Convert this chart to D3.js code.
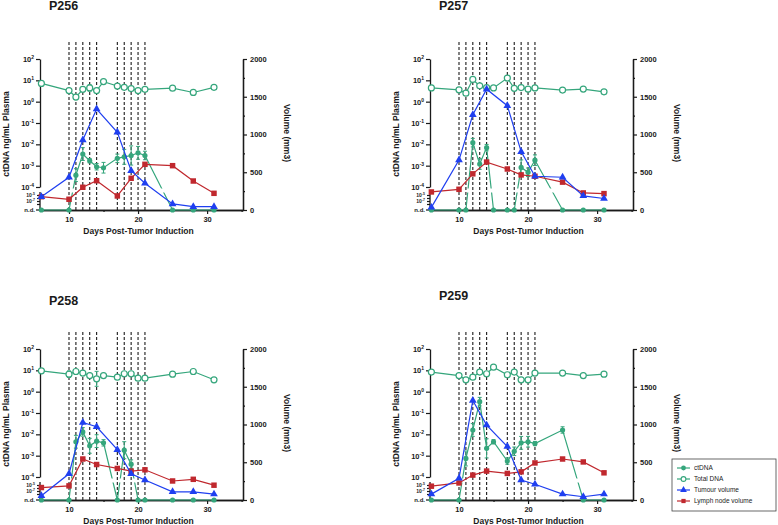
<!DOCTYPE html>
<html>
<head>
<meta charset="utf-8">
<script src="https://cdn.jsdelivr.net/npm/d3@7"></script>
<style>
  body { margin: 0; background: #fff; }
  svg { display: block; font-family: "Liberation Sans", Arial, sans-serif; font-weight: bold; }
</style>
</head>
<body>
<svg id="chart" width="778" height="525"></svg>
<script>
// ---------------------------------------------------------------------------
// Data. 0 = n.d. (not detected)
// ---------------------------------------------------------------------------
const dnaDays  = [6, 10, 11, 12, 13, 14, 15, 17, 18, 19, 20, 21, 25, 28, 31];
const volDays  = [6, 10, 12, 14, 17, 19, 21, 25, 28, 31];
const doseDays = [10, 11, 12, 13, 14, 17, 18, 19, 20, 21];

// ctDNA (ng/mL plasma), error in log decades
const ctDNA_P256 = [0, 0, 3.6e-4, 3.5e-3, 1.7e-3, 8.9e-4, 8e-4, 2.2e-3, 2.6e-3, 3e-3, 4e-3, 3e-3, 0, 0, 0];
const ctErr_P256 = [0, 0, 0.3, 0.3, 0.1, 0.15, 0.25, 0.2, 0.35, 0.45, 0.3, 0.2, 0, 0, 0];
const ctDNA_P257 = [0, 0, 0, 1.2e-2, 1.2e-3, 7e-3, 0, 0, 0, 8.3e-4, 4.9e-4, 1.8e-3, 0, 0, 0];
const ctErr_P257 = [0, 0, 0, 0.2, 0.25, 0.15, 0, 0, 0, 0.35, 0.2, 0.25, 0, 0, 0];
const ctDNA_P258 = [0, 0, 4.5e-3, 1.3e-2, 2.9e-3, 4.8e-3, 4e-3, 0, 1.8e-3, 4e-4, 0, 0, 0, 0, 0];
const ctErr_P258 = [0, 0, 0.3, 0.2, 0.35, 0.3, 0.15, 0, 0.4, 0.2, 0, 0, 0, 0, 0];
const ctDNA_P259 = [0, 0, 7.4e-4, 1.6e-2, 0.34, 2.2e-3, 4.5e-3, 5.6e-4, 1.6e-3, 4e-3, 4.5e-3, 3.7e-3, 1.6e-2, 0, 0];
const ctErr_P259 = [0, 0, 0.35, 0.3, 0.2, 0.45, 0.1, 0.15, 0.2, 0.3, 0.25, 0.1, 0.15, 0, 0];

// total DNA (ng/mL plasma)
const totDNA_P256 = [7.2, 3.3, 1.65, 3.8, 4.4, 3.3, 8.7, 5.4, 4.7, 4.1, 3.3, 3.8, 4.3, 2.7, 4.7];
const totErr_P256 = [0, 0, 0.1, 0.12, 0.15, 0, 0, 0, 0, 0, 0, 0, 0, 0, 0];
const totDNA_P257 = [4.4, 3.6, 2.5, 11, 5.5, 4.6, 4.4, 12.8, 4.2, 4.6, 3.9, 4.4, 3.5, 3.9, 2.9];
const totErr_P257 = [0.12, 0, 0.1, 0, 0, 0, 0, 0, 0, 0, 0, 0, 0, 0, 0];
const totDNA_P258 = [9.5, 6.6, 8.8, 7.4, 5.7, 4, 5.7, 4.8, 6.9, 6.9, 4.3, 4.3, 6.6, 8.8, 3.6];
const totErr_P258 = [0.1, 0.15, 0, 0, 0, 0.35, 0, 0, 0, 0, 0, 0, 0, 0, 0];
const totDNA_P259 = [8.3, 5.7, 3.6, 4.8, 8.3, 6.9, 14, 6.2, 8.3, 3.6, 3.6, 7.4, 7.4, 5.7, 6.6];
const totErr_P259 = [0, 0, 0, 0, 0, 0, 0, 0, 0.1, 0, 0, 0, 0, 0, 0];

// volumes (mm3)
const tumour_P256 = [176, 433, 928, 1338, 1029, 521, 354, 80, 44, 44];
const lymph_P256  = [176, 142, 301, 388, 186, 420, 605, 587, 384, 221];
const tumour_P257 = [35, 661, 1261, 1600, 1382, 773, 447, 434, 187, 152];
const lymph_P257  = [239, 274, 479, 635, 543, 465, 447, 369, 226, 217];
const tumour_P258 = [56, 347, 1026, 970, 666, 347, 265, 108, 108, 78];
const lymph_P258  = [165, 187, 543, 470, 418, 383, 400, 252, 274, 196];
const tumour_P259 = [78, 287, 1318, 992, 709, 265, 209, 78, 43, 78];
const lymph_P259  = [183, 226, 330, 383, 352, 373, 491, 543, 504, 360];

const panelNames = ["P256", "P257", "P258", "P259"];
const legendLabels = ["ctDNA", "Total DNA", "Tumour volume", "Lymph node volume"];

const panels = [
  { name: panelNames[0], ct: ctDNA_P256, ctErr: ctErr_P256, tot: totDNA_P256, totErr: totErr_P256, tum: tumour_P256, lym: lymph_P256 },
  { name: panelNames[1], ct: ctDNA_P257, ctErr: ctErr_P257, tot: totDNA_P257, totErr: totErr_P257, tum: tumour_P257, lym: lymph_P257 },
  { name: panelNames[2], ct: ctDNA_P258, ctErr: ctErr_P258, tot: totDNA_P258, totErr: totErr_P258, tum: tumour_P258, lym: lymph_P258 },
  { name: panelNames[3], ct: ctDNA_P259, ctErr: ctErr_P259, tot: totDNA_P259, totErr: totErr_P259, tum: tumour_P259, lym: lymph_P259 }
];

// panel placement
const layout = [
  { ox: 0,   oy: 0,   ty: 10 },
  { ox: 390, oy: 0,   ty: 10 },
  { ox: 0,   oy: 290, ty: 15 },
  { ox: 390, oy: 290, ty: 10 }
];

const GREEN = "#35a67c", BLUE = "#1f3ff0", RED = "#c0282e", INK = "#1a1a1a";

// ---------------------------------------------------------------------------
// Scales (panel-local coordinates)
// ---------------------------------------------------------------------------
const x    = d3.scaleLinear().domain([5.8, 35.2]).range([40, 243]);
const yLog = d3.scaleLog().domain([1e-4, 1e2]).range([187, 59]);
const yLow = d3.scaleLog().domain([1e-5, 1e-8]).range([195, 204]);
const ND_Y = 210;
const yVol = d3.scaleLinear().domain([0, 2000]).range([210, 59]);
const yDNA = v => v === 0 ? ND_Y : yLog(v);

const svg = d3.select('#chart');
const defs = svg.append('defs');

// clip out the axis break band for the DNA lines
const clip = defs.append('clipPath').attr('id', 'breakClip');
clip.append('rect').attr('x', 0).attr('y', 0).attr('width', 300).attr('height', 188.5);
clip.append('rect').attr('x', 0).attr('y', 192.5).attr('width', 300).attr('height', 40);

function supLabel(sel, base, exp, small) {
  sel.text(null);
  sel.append('tspan').text(base);
  sel.append('tspan').attr('dy', small ? -2 : -3).attr('font-size', small ? 3.5 : 5).text(exp);
}

function styleAxis(g) {
  g.selectAll('path.domain').attr('stroke', INK).attr('stroke-width', 1.3);
  g.selectAll('.tick line').attr('stroke', INK).attr('stroke-width', 1.2);
  g.selectAll('.tick text').attr('fill', INK).attr('font-family', '"Liberation Sans", Arial, sans-serif')
    .attr('font-weight', 'bold');
}

panels.forEach((p, i) => {
  const L = layout[i];
  const g = svg.append('g').attr('transform', `translate(${L.ox},${L.oy})`);

  // title
  g.append('text').attr('x', 49).attr('y', L.ty).attr('font-size', 12.5).attr('fill', INK).text(p.name);

  // dosing days: dashed verticals
  g.append('g').selectAll('line').data(doseDays).join('line')
    .attr('x1', d => x(d)).attr('x2', d => x(d))
    .attr('y1', 42).attr('y2', ND_Y)
    .attr('stroke', INK).attr('stroke-width', 1.1).attr('stroke-dasharray', '3,2');

  // left axis: main log segment
  const axL = g.append('g').attr('transform', 'translate(40,0)')
    .call(d3.axisLeft(yLog).tickValues([1e-4, 1e-3, 1e-2, 1e-1, 1, 10, 100]).tickSize(4).tickSizeOuter(0).tickFormat(''));
  axL.selectAll('.tick text').attr('font-size', 7.5).attr('x', -6)
    .each(function(d) { supLabel(d3.select(this), '10', String(Math.round(Math.log10(d)))); });
  styleAxis(axL);

  // left axis: compressed segment below the break
  const axLow = g.append('g').attr('transform', 'translate(40,0)')
    .call(d3.axisLeft(yLow).tickValues([1e-5, 1e-6, 1e-7, 1e-8]).tickSize(3).tickSizeOuter(0).tickFormat(''));
  axLow.select('path.domain').remove();
  axLow.selectAll('.tick text').attr('font-size', 5).attr('x', -5)
    .each(function(d) {
      const e = Math.round(Math.log10(d));
      if (e === -5 || e === -7) supLabel(d3.select(this), '10', String(e), true);
    });
  styleAxis(axLow);
  axLow.append('line').attr('x1', 0).attr('x2', 0).attr('y1', 192).attr('y2', ND_Y)
    .attr('stroke', INK).attr('stroke-width', 1.3);
  axLow.append('line').attr('x1', -4).attr('x2', 0).attr('y1', ND_Y).attr('y2', ND_Y)
    .attr('stroke', INK).attr('stroke-width', 1.2);
  axLow.append('text').attr('x', -5).attr('y', ND_Y + 0.5).attr('dy', '0.32em')
    .attr('text-anchor', 'end').attr('font-size', 6).attr('fill', INK).text('n.d.');

  // right axis
  const axRm = g.append('g').attr('transform', 'translate(243,0)')
    .call(d3.axisRight(yVol).tickValues(d3.range(250, 2000, 500)).tickSize(2).tickSizeOuter(0).tickFormat(''));
  styleAxis(axRm);
  const axR = g.append('g').attr('transform', 'translate(243,0)')
    .call(d3.axisRight(yVol).tickValues([0, 500, 1000, 1500, 2000]).tickSize(4).tickSizeOuter(0)
      .tickPadding(3).tickFormat(d3.format('d')));
  axR.selectAll('.tick text').attr('font-size', 7.5);
  styleAxis(axR);

  // x axis
  const axXm = g.append('g').attr('transform', `translate(0,${ND_Y})`)
    .call(d3.axisBottom(x).tickValues([15, 25, 35]).tickSize(2).tickSizeOuter(0).tickFormat(''));
  styleAxis(axXm);
  const axX = g.append('g').attr('transform', `translate(0,${ND_Y})`)
    .call(d3.axisBottom(x).tickValues([10, 20, 30]).tickSize(4).tickSizeOuter(0).tickPadding(2.5));
  axX.selectAll('.tick text').attr('font-size', 7.5);
  styleAxis(axX);

  // axis titles
  g.append('text').attr('transform', 'translate(8.5,134) rotate(-90)').attr('text-anchor', 'middle')
    .attr('font-size', 8.5).attr('fill', INK).text('ctDNA ng/mL Plasma');
  g.append('text').attr('transform', 'translate(284,133) rotate(90)').attr('text-anchor', 'middle')
    .attr('font-size', 8.5).attr('fill', INK).text('Volume (mm3)');
  g.append('text').attr('x', 138.5).attr('y', 233.5).attr('text-anchor', 'middle')
    .attr('font-size', 8.5).attr('fill', INK).text('Days Post-Tumor Induction');

  // ---- DNA series (left axis) ----
  const dnaLine = d3.line().x((d, j) => x(dnaDays[j])).y(d => yDNA(d));
  const gDna = g.append('g');
  const gDnaLines = gDna.append('g').attr('clip-path', 'url(#breakClip)');

  gDnaLines.append('path').datum(p.tot).attr('d', dnaLine)
    .attr('fill', 'none').attr('stroke', GREEN).attr('stroke-width', 1.2);
  gDnaLines.append('path').datum(p.ct).attr('d', dnaLine)
    .attr('fill', 'none').attr('stroke', GREEN).attr('stroke-width', 1.2);

  // error bars
  const errBars = (vals, errs) => vals.map((v, j) => ({ d: dnaDays[j], v, e: errs[j] })).filter(o => o.v > 0 && o.e > 0);
  const drawErr = data => {
    const eg = gDna.append('g').selectAll('g').data(data).join('g')
      .attr('stroke', GREEN).attr('stroke-width', 1);
    eg.append('line').attr('x1', o => x(o.d)).attr('x2', o => x(o.d))
      .attr('y1', o => yLog(o.v * Math.pow(10, o.e))).attr('y2', o => yLog(o.v / Math.pow(10, o.e)));
    eg.append('line').attr('x1', o => x(o.d) - 2).attr('x2', o => x(o.d) + 2)
      .attr('y1', o => yLog(o.v * Math.pow(10, o.e))).attr('y2', o => yLog(o.v * Math.pow(10, o.e)));
    eg.append('line').attr('x1', o => x(o.d) - 2).attr('x2', o => x(o.d) + 2)
      .attr('y1', o => yLog(o.v / Math.pow(10, o.e))).attr('y2', o => yLog(o.v / Math.pow(10, o.e)));
  };
  drawErr(errBars(p.tot, p.totErr));
  drawErr(errBars(p.ct, p.ctErr));

  gDna.append('g').selectAll('circle').data(p.tot).join('circle')
    .attr('cx', (d, j) => x(dnaDays[j])).attr('cy', d => yDNA(d)).attr('r', 3)
    .attr('fill', '#fff').attr('stroke', GREEN).attr('stroke-width', 1.2);
  gDna.append('g').selectAll('circle').data(p.ct).join('circle')
    .attr('cx', (d, j) => x(dnaDays[j])).attr('cy', d => yDNA(d)).attr('r', 2.6)
    .attr('fill', GREEN);

  // ---- volume series (right axis) ----
  const volLine = d3.line().x((d, j) => x(volDays[j])).y(d => yVol(d));
  const drawVol = (vals, color, sym) => {
    g.append('path').datum(vals).attr('d', volLine)
      .attr('fill', 'none').attr('stroke', color).attr('stroke-width', 1.2);
    g.append('g').selectAll('path').data(vals).join('path')
      .attr('transform', (d, j) => `translate(${x(volDays[j])},${yVol(d)})`)
      .attr('d', d3.symbol().type(sym).size(sym === d3.symbolTriangle ? 26 : 30))
      .attr('fill', color);
  };
  drawVol(p.lym, RED, d3.symbolSquare);
  drawVol(p.tum, BLUE, d3.symbolTriangle);
});

// ---------------------------------------------------------------------------
// Legend
// ---------------------------------------------------------------------------
const leg = svg.append('g').attr('transform', 'translate(672,459)');
leg.append('rect').attr('width', 104).attr('height', 52)
  .attr('fill', '#fff').attr('stroke', '#444').attr('stroke-width', 0.8);
const legStyles = [
  { color: GREEN, kind: 'dot' },
  { color: GREEN, kind: 'ring' },
  { color: BLUE,  kind: 'tri' },
  { color: RED,   kind: 'sq' }
];
legendLabels.forEach((lab, i) => {
  const s = legStyles[i];
  const r = leg.append('g').attr('transform', `translate(0,${9 + i * 11})`);
  r.append('line').attr('x1', 5).attr('x2', 18).attr('y1', 0).attr('y2', 0)
    .attr('stroke', s.color).attr('stroke-width', 1.2);
  if (s.kind === 'dot') r.append('circle').attr('cx', 11.5).attr('r', 2.4).attr('fill', s.color);
  if (s.kind === 'ring') r.append('circle').attr('cx', 11.5).attr('r', 2.4).attr('fill', '#fff').attr('stroke', s.color).attr('stroke-width', 1.1);
  if (s.kind === 'tri') r.append('path').attr('transform', 'translate(11.5,0)').attr('d', d3.symbol().type(d3.symbolTriangle).size(20)).attr('fill', s.color);
  if (s.kind === 'sq') r.append('path').attr('transform', 'translate(11.5,0)').attr('d', d3.symbol().type(d3.symbolSquare).size(18)).attr('fill', s.color);
  r.append('text').attr('x', 22).attr('dy', '0.33em').attr('font-size', 6.5)
    .attr('font-weight', 'normal').attr('fill', INK).text(lab);
});
</script>
</body>
</html>
